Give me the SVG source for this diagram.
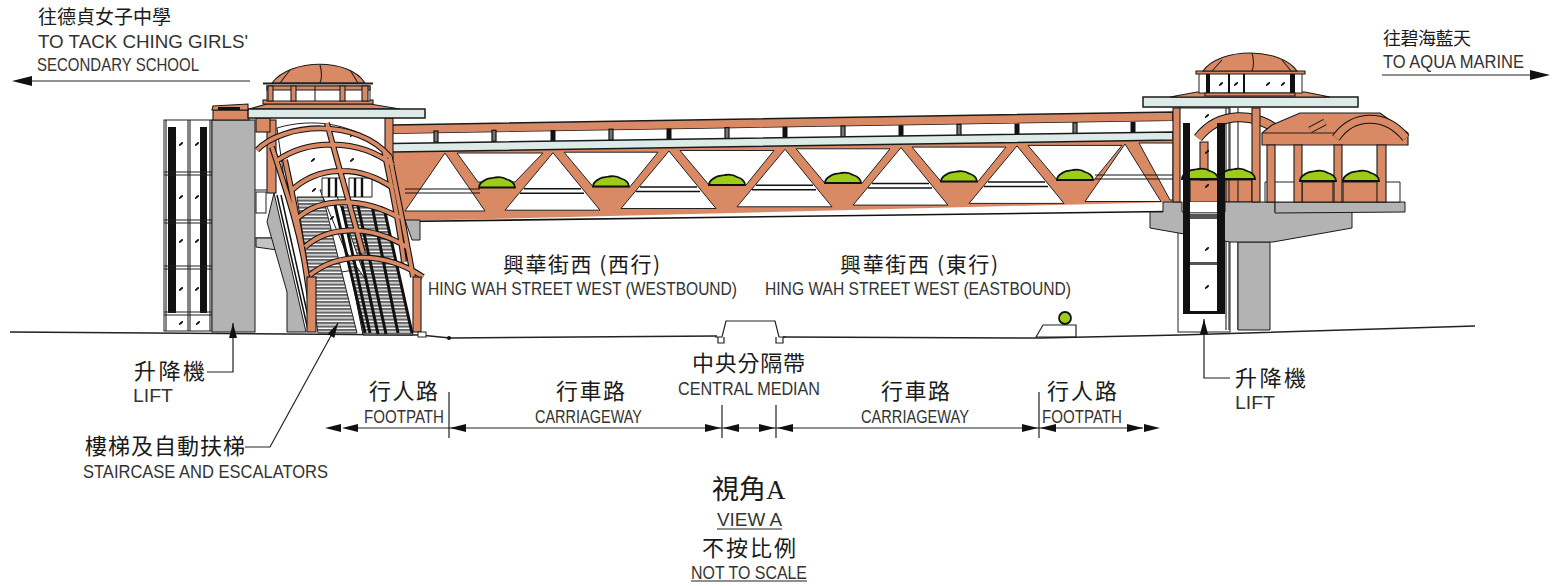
<svg xmlns="http://www.w3.org/2000/svg" width="1553" height="586" viewBox="0 0 1553 586">
<style>
.o{fill:#d98a65;stroke:#1a1a1a;stroke-width:1.1}
.g{fill:#b3b3b3;stroke:#1a1a1a;stroke-width:1}
.b{fill:#dcebe8;stroke:#1a1a1a;stroke-width:1.5}
.w{fill:#fff;stroke:#222;stroke-width:1}
.k{fill:#111}
.l{fill:none;stroke:#222;stroke-width:1.1}
.ar0{fill:none;stroke:#111;stroke-width:6}
.ar1{fill:none;stroke:#d98a65;stroke-width:3.800}
.tc{font-family:"Noto Sans CJK TC","Liberation Sans",sans-serif;fill:#1a1a1a}
.en{font-family:"Liberation Sans",sans-serif;fill:#333;font-size:18px}
.pl{fill:#9ccc16;stroke:#111;stroke-width:1.8}
.ln{fill:none;stroke:#222;stroke-width:1.2}
</style>
<defs>
<marker id="as" markerWidth="22" markerHeight="10" refX="20" refY="5" orient="auto" markerUnits="userSpaceOnUse"><path d="M0 5L20 0V10Z" fill="#111"/></marker>
<marker id="ae" markerWidth="22" markerHeight="10" refX="0" refY="5" orient="auto" markerUnits="userSpaceOnUse"><path d="M20 5L0 0V10Z" fill="#111"/></marker>
<marker id="ad" markerWidth="16" markerHeight="10" refX="15" refY="4" orient="auto" markerUnits="userSpaceOnUse"><path d="M15 4L0 0V8Z" fill="#111"/></marker>
<pattern id="st" width="6" height="3.500" patternUnits="userSpaceOnUse"><rect width="6" height="3.500" fill="#fff"/><rect width="6" height="2.200" fill="#666"/></pattern>
<g id="post"><rect x="-2.500" y="-11" width="5" height="11" class="k"/></g>
<g id="post2"><rect x="-2" y="-11" width="4" height="11" fill="#777" stroke="#111" stroke-width="1.200"/></g>
<g id="plant"><path class="pl" d="M-18 0C-18-5-14-6-11-8C-8-10-5-9-2-10C3-11 7-10 10-8C14-7 18-4 18 0Z"/></g>
<g id="gl"><ellipse rx="2.600" ry="1.100" transform="rotate(-40)" class="k"/></g>
<g id="unit">
<path class="w" d="M0 0L-48 57.500H47Z"/>
<path class="w" d="M11-.5H105L77 34H40Z"/>
<path d="M-29 36H28M-33 40.500H31" stroke="#111" stroke-width="1.500" fill="none"/>
</g>
</defs>

<g id="ground">
<path class="ln" style="stroke-width:1.500" d="M10 332L420 335L450 338L717 336M783 337L1040 338L1180 335L1475 326"/>
<path class="ln" d="M715 337H722L726 321H775L779 337H786M718 337V343H724V337M776 337V343H783V337"/>
<circle cx="449" cy="338" r="2" class="k"/>
<path class="ln" d="M1036 337L1043 325H1076V337Z"/>
<circle cx="1065" cy="318" r="6" class="pl"/>
</g>

<g id="bridge">
<path fill="#d98a65" d="M392 152L1175 140V202L405 221Z"/>
<use href="#unit" x="553" y="152.700"/><use href="#unit" x="669" y="151"/><use href="#unit" x="785" y="149.300"/><use href="#unit" x="901" y="147.600"/><use href="#unit" x="1017" y="145.900"/>
<path class="w" d="M445 153L405 211H485Z"/>
<path class="w" d="M457 153H543L515 182H478Z"/>
<path class="w" d="M1125 144L1085 201.500H1161Z"/>
<path class="w" d="M1139 143H1173V200H1170Z"/>
<path d="M405 189H480M405 193H480M1095 175H1173M1095 179H1173" stroke="#111" fill="none"/>
<path d="M405 221.500L1165 211.500" stroke="#111" stroke-width="1.600" fill="none"/>
<path class="o" style="stroke-width:1.500" d="M392 125L1173 112V121L392 134Z"/>
<path fill="#fff" d="M392 134L1173 121V133L392 144Z"/>
<g id="posts">
<use href="#post2" x="436" y="142"/><use href="#post2" x="494" y="141.300"/><use href="#post" x="553" y="141"/><use href="#post2" x="611" y="140.200"/><use href="#post" x="669" y="139.400"/><use href="#post2" x="727" y="138.600"/><use href="#post" x="785" y="137.800"/><use href="#post2" x="843" y="137"/><use href="#post" x="901" y="136.200"/><use href="#post2" x="959" y="135.400"/><use href="#post" x="1017" y="134.600"/><use href="#post2" x="1075" y="133.800"/><use href="#post" x="1133" y="133"/>
</g>
<path class="b" d="M392 143.500L1173 132V140L392 152Z"/>
<use href="#plant" x="497" y="187.500"/><use href="#plant" x="611" y="186.500"/><use href="#plant" x="727" y="185"/><use href="#plant" x="843" y="183"/><use href="#plant" x="959" y="181.500"/><use href="#plant" x="1075" y="180"/>
</g>

<g id="west-tower">
<rect class="w" x="164" y="120" width="48" height="211"/>
<g class="k"><rect x="168" y="127" width="8" height="186"/><rect x="200" y="127" width="7" height="186"/></g>
<path class="l" d="M164 172H212M164 175H212M164 220H212M164 223H212M164 266H212M164 269H212M164 312H212M164 315H212M188 120V331M190 120V331M166 120V331M210 120V331"/>
<use href="#gl" x="181" y="144"/><use href="#gl" x="181" y="197"/><use href="#gl" x="181" y="241"/><use href="#gl" x="181" y="289"/><use href="#gl" x="181" y="323"/><use href="#gl" x="198" y="323"/><use href="#gl" x="197" y="144"/><use href="#gl" x="197" y="197"/><use href="#gl" x="197" y="241"/><use href="#gl" x="197" y="289"/>
<rect class="g" x="212" y="120" width="43" height="212"/>
<rect class="o" x="213" y="110" width="36" height="10"/>
<path class="l" d="M255 190H272M255 238H272"/>
<path class="g" style="fill:#c4c4c4" d="M256 238H272L277 250L256 247Z"/>
<path class="g" d="M274 193L306 332H287V292L267 222Z"/>
<rect class="w" x="256" y="192" width="10" height="21"/>
<path class="g" d="M405 220H420V240L412 240Z"/>
<path fill="#fff" stroke="#222" d="M277 128C310 118 360 120 392 160L404 262L310 277L285 185Z"/>
<path fill="url(#st)" stroke="#222" d="M297 197H323L357 333H318Z"/>
<path fill="url(#st)" stroke="#111" d="M337 203L383 207L413 335H363Z"/>
<path class="w" d="M320 190H335L366 280L345 250Z"/>
<path fill="none" stroke="#111" stroke-width="3" d="M335 205L365 333M350 206L378 334M372 206L398 333M384 208L412 333M342 206L370 333M358 206L386 334"/>
<path class="w" d="M322 178H345V197H322ZM349 178H372V197H349Z"/>
<path fill="none" stroke="#111" stroke-width="2.400" d="M329 178V197M336 178V197M355 178V197M362 178V197"/>
<use href="#gl" x="313" y="160"/><use href="#gl" x="352" y="160"/><use href="#gl" x="314" y="190"/><use href="#gl" x="332" y="218"/><use href="#gl" x="352" y="135"/>
<path fill="none" stroke="#111" stroke-width="1.500" d="M277 195L308 330M281 195L311 330"/>
<rect class="o" x="267" y="120" width="9" height="73"/>
<rect class="o" x="385" y="118" width="8" height="42"/>
<rect class="o" x="256" y="118" width="14" height="14"/>
<g id="arches">
<path class="ar0" d="M272 147C286 190 300 230 307 277M285 160C296 210 306 260 313 325M327 123C338 165 350 205 363 253M390 157C396 190 404 225 413 277M384 150C392 190 398 215 404 262M257 150C283 123 357 117 390 157M278 160C307 140 357 137 393 165M292 190C317 167 357 163 393 188M298 218C320 197 363 197 400 218M305 247C327 227 367 223 407 247M310 275C337 253 383 250 423 277"/>
<path class="ar1" d="M272 147C286 190 300 230 307 277M285 160C296 210 306 260 313 325M327 123C338 165 350 205 363 253M390 157C396 190 404 225 413 277M384 150C392 190 398 215 404 262M257 150C283 123 357 117 390 157M278 160C307 140 357 137 393 165M292 190C317 167 357 163 393 188M298 218C320 197 363 197 400 218M305 247C327 227 367 223 407 247M310 275C337 253 383 250 423 277"/>
</g>
<rect class="o" x="307" y="277" width="9" height="55"/>
<rect class="o" x="413" y="277" width="8" height="55"/>
<rect x="418" y="332" width="8" height="5" class="w"/>
<path class="o" d="M249 109L267 104H370L400 109Z"/>
<rect class="b" x="248" y="109" width="177" height="9"/>
<path class="o" d="M212 110L213 106L248 104V110Z"/>
<path class="k" d="M218 107H240V110H218Z"/>
<rect class="o" x="263" y="100" width="110" height="4"/>
<rect class="w" x="267" y="86" width="103" height="15"/>
<path class="o" d="M267 86H370V90H267Z"/>
<path class="o" d="M291 86h5v15h-5zM340 86h5v15h-5zM362 86h6v15h-6zM268 86h5v15h-5z"/>
<path class="l" d="M315 86V101"/>
<path class="o" d="M272 83C290 58 350 58 365 83Z"/>
<path class="l" d="M320 65C322 72 322 78 320 83M290 70L280 83M350 70L358 83"/>
<path class="ln" style="stroke-width:2" d="M263 83.500H373"/>
</g>

<g id="east-tower">
<rect class="w" x="1178" y="108" width="52" height="224"/>
<path class="o" d="M1190 180H1252V202H1190Z"/>
<path class="l" d="M1226 108V330M1229 108V330M1238 108V330"/>
<path class="o" d="M1200 142h8v38h-8z"/>
<path class="ar0" style="stroke-width:10" d="M1198 138C1218 112 1255 110 1282 134"/>
<path class="ar1" style="stroke-width:8" d="M1198 138C1218 112 1255 110 1282 134"/>
<path class="g" d="M1270 242H1238V330H1270Z"/>
<path class="g" d="M1163 202H1182V212H1225V202H1275V212H1352V228L1273 242H1230L1150 228V212H1163Z"/>
<path class="g" d="M1275 202H1405V212L1275 213Z"/>
<rect x="1190" y="202" width="27" height="10" fill="#fff"/><rect x="1190" y="218" width="27" height="90" fill="#fff"/>
<rect x="1183" y="214" width="42" height="5" fill="#555"/><rect x="1183" y="262" width="42" height="3" fill="#555"/>
<rect class="k" x="1183" y="123" width="7" height="190"/><rect class="k" x="1217" y="123" width="8" height="190"/>
<rect class="k" x="1183" y="311" width="42" height="3"/>
<use href="#gl" x="1207" y="116"/><use href="#gl" x="1207" y="152"/><use href="#gl" x="1207" y="186"/><use href="#gl" x="1207" y="249"/><use href="#gl" x="1207" y="287"/>
<rect class="o" x="1173" y="108" width="7" height="94"/>
<rect class="o" x="1252" y="108" width="8" height="94"/>
<path class="o" d="M1262 133L1272 125L1300 113H1340L1380 113L1408 133V145H1262Z"/>
<path class="l" d="M1262 133H1337"/>
<path class="ar0" style="stroke-width:9" d="M1336 138C1352 114 1385 112 1406 138"/>
<path class="ar1" style="stroke-width:7" d="M1336 138C1352 114 1385 112 1406 138"/>
<path class="ar0" style="stroke-width:7" d="M1310 130L1325 122"/>
<path class="ar1" style="stroke-width:5" d="M1310 130L1325 122"/>
<path class="w" d="M1265 182H1400V202H1265Z"/>
<g id="pavilion-walls">
<path class="o" d="M1302 182H1333V202H1302ZM1343 182H1378V202H1343Z"/>
<path class="o" d="M1267 145h8v57h-8zM1294 145h8v57h-8zM1334 145h8v57h-8zM1377 145h9v57h-9z"/>
</g>
<use href="#plant" x="1200" y="179"/><use href="#plant" x="1237" y="179"/>
<use href="#plant" x="1318" y="181"/><use href="#plant" x="1361" y="181"/>
<rect class="k" x="1183" y="123" width="7" height="80"/><rect class="k" x="1217" y="123" width="8" height="80"/>
<rect class="b" x="1143" y="97" width="215" height="10"/>
<path class="o" d="M1170 97L1197 92H1305L1330 97Z"/>
<rect class="w" x="1199" y="73" width="103" height="20"/>
<path class="k" d="M1206 73h4v20h-4zM1290 73h5v20h-5zM1228 73h2v20h-2zM1243 73h2v20h-2z"/>
<use href="#gl" x="1221" y="84"/><use href="#gl" x="1236" y="84"/><use href="#gl" x="1268" y="84"/><use href="#gl" x="1283" y="84"/>
<path class="o" d="M1196 71H1305V74H1196ZM1205 93H1295V96H1205Z"/>
<path class="o" d="M1203 71C1220 47 1280 47 1297 71Z"/>
<path class="l" d="M1252 53C1254 60 1254 66 1252 71M1222 60L1212 71M1282 60L1291 71"/>
</g>

<g id="connectors">
<path class="ln" marker-start="url(#as)" d="M32 81H250"/>
<path class="ln" marker-end="url(#ae)" d="M1382 75H1530"/>
<path class="ln" marker-end="url(#ad)" d="M207 372H233V323"/>
<path class="ln" marker-end="url(#ad)" d="M245 447H270L338 323"/>
<path class="ln" marker-end="url(#ad)" d="M1230 378H1204V319"/>
<path class="ln" d="M347 428H1143"/>
<path class="ln" d="M449 392V438M722 405V438M776 405V438M1039 392V438"/>
<path class="k" d="M325 428L341 424V432ZM342 428L358 424V432ZM450 428L466 424V432ZM721 428L705 424V432ZM723 428L739 424V432ZM775 428L759 424V432ZM777 428L793 424V432ZM1038 428L1022 424V432ZM1040 428L1056 424V432ZM1143 428L1127 424V432ZM1160 428L1144 424V432Z"/>
<path class="ln" d="M717 529H782M691 581H807"/>
</g>

<g id="labels">
<text class="tc" x="38" y="24" font-size="19" textLength="133">往德貞女子中學</text>
<text class="en" x="38" y="48" textLength="210" lengthAdjust="spacingAndGlyphs">TO TACK CHING GIRLS'</text>
<text class="en" x="37" y="71" textLength="162" lengthAdjust="spacingAndGlyphs">SECONDARY SCHOOL</text>
<text class="tc" x="1383" y="45" font-size="18" textLength="88">往碧海藍天</text>
<text class="en" x="1383" y="68" textLength="141" lengthAdjust="spacingAndGlyphs">TO AQUA MARINE</text>
<text class="tc" x="503" y="272" font-size="21" textLength="157">興華街西 (西行)</text>
<text class="en" x="428" y="295" textLength="309" lengthAdjust="spacingAndGlyphs">HING WAH STREET WEST (WESTBOUND)</text>
<text class="tc" x="840" y="272" font-size="21" textLength="158">興華街西 (東行)</text>
<text class="en" x="765" y="295" textLength="306" lengthAdjust="spacingAndGlyphs">HING WAH STREET WEST (EASTBOUND)</text>
<text class="tc" x="134" y="379" font-size="22" textLength="71">升降機</text>
<text class="en" x="133" y="402" textLength="40" lengthAdjust="spacingAndGlyphs">LIFT</text>
<text class="tc" x="1235" y="386" font-size="22" textLength="71">升降機</text>
<text class="en" x="1235" y="409" textLength="40" lengthAdjust="spacingAndGlyphs">LIFT</text>
<text class="tc" x="369" y="399" font-size="22" textLength="69">行人路</text>
<text class="en" x="364" y="423" textLength="80" lengthAdjust="spacingAndGlyphs">FOOTPATH</text>
<text class="tc" x="556" y="399" font-size="22" textLength="69">行車路</text>
<text class="en" x="535" y="423" textLength="107" lengthAdjust="spacingAndGlyphs">CARRIAGEWAY</text>
<text class="tc" x="692" y="371" font-size="22" textLength="113">中央分隔帶</text>
<text class="en" x="678" y="395" textLength="142" lengthAdjust="spacingAndGlyphs">CENTRAL MEDIAN</text>
<text class="tc" x="881" y="399" font-size="22" textLength="69">行車路</text>
<text class="en" x="861" y="423" textLength="108" lengthAdjust="spacingAndGlyphs">CARRIAGEWAY</text>
<text class="tc" x="1047" y="399" font-size="22" textLength="70">行人路</text>
<text class="en" x="1042" y="423" textLength="80" lengthAdjust="spacingAndGlyphs">FOOTPATH</text>
<text class="tc" x="85" y="454" font-size="22" textLength="160">樓梯及自動扶梯</text>
<text class="en" x="83" y="478" textLength="245" lengthAdjust="spacingAndGlyphs">STAIRCASE AND ESCALATORS</text>
<text class="tc" x="712" y="499" font-size="27">視角<tspan font-family="Liberation Serif">A</tspan></text>
<text class="en" x="717" y="526" textLength="65" lengthAdjust="spacingAndGlyphs">VIEW A</text>
<text class="tc" x="702" y="556" font-size="22" textLength="94">不按比例</text>
<text class="en" x="691" y="579" textLength="116" lengthAdjust="spacingAndGlyphs">NOT TO SCALE</text>
</g>
</svg>
